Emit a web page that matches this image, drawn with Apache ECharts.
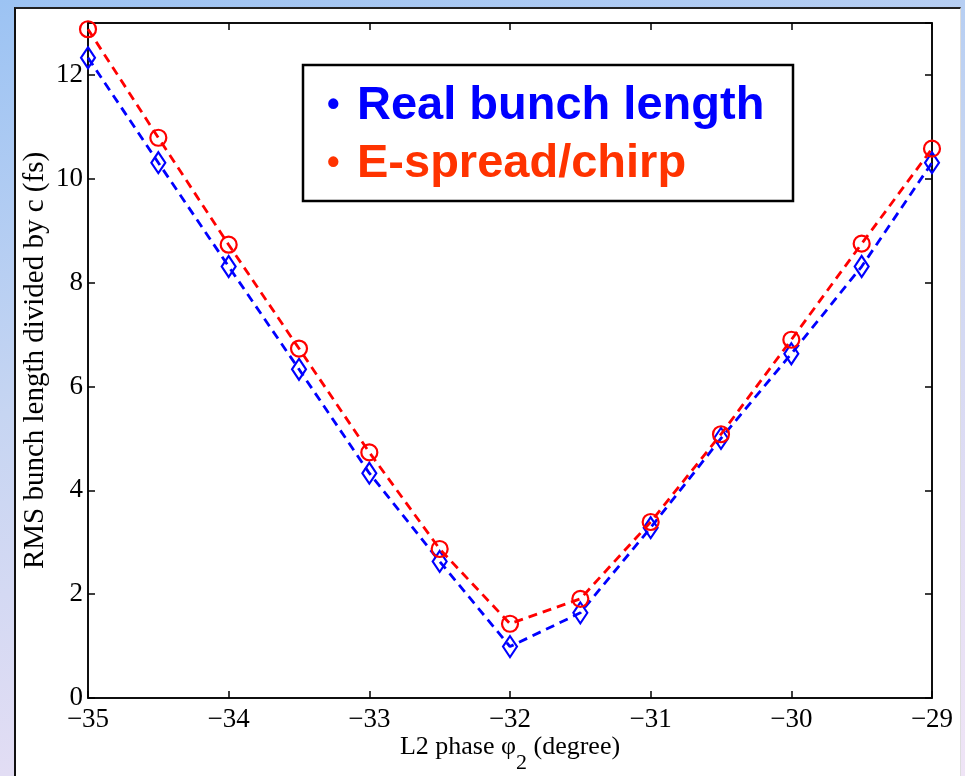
<!DOCTYPE html>
<html>
<head>
<meta charset="utf-8">
<script src="https://cdn.jsdelivr.net/npm/echarts@6/dist/echarts.min.js"></script>
<style>
    html, body {
        margin: 0;
        padding: 0;
        width: 965px;
        height: 776px;
        overflow: hidden;
    }
    body {
        background: linear-gradient(165deg, #9cc3f3 0%, #c6d5f2 40%, #e2ddf4 75%, #efe4f6 100%);
    }
    #panel {
        position: absolute;
        left: 14px;
        top: 7px;
        width: 944px;
        height: 780px;
        background: #fff;
        border-left: 2px solid #111;
        border-top: 2px solid #222;
        border-right: 1px solid #ddd;
    }
    #mainChart {
        position: absolute;
        left: 0;
        top: 0;
        width: 965px;
        height: 776px;
    }
</style>
</head>
<body>
<div id="panel"></div>
<div id="mainChart"></div>
<script>
    // L2 phase (degree)
    var phase = [-35, -34.5, -34, -33.5, -33, -32.5, -32, -31.5, -31, -30.5, -30, -29.5, -29];
    // real rms bunch length / c (fs)
    var realLength = [12.33, 10.31, 8.31, 6.33, 4.33, 2.63, 0.99, 1.64, 3.28, 5.0, 6.63, 8.31, 10.31];
    // energy spread / chirp (fs)
    var spreadChirp = [12.88, 10.79, 8.73, 6.73, 4.73, 2.87, 1.43, 1.91, 3.39, 5.08, 6.9, 8.75, 10.58];
    var xTicks = { min: -35, max: -29, step: 1 };
    var yTicks = { min: 0, max: 13, step: 2 };

    function pairs(xs, ys) {
        return xs.map(function (x, i) { return [x, ys[i]]; });
    }
    function minus(v) {
        return String(v).replace('-', '\u2212');
    }

    var chart = echarts.init(document.getElementById('mainChart'));
    var serif = 'Liberation Serif, Times New Roman, serif';
    var sans = 'Liberation Sans, Arial, sans-serif';

    var axisLine = { show: true, onZero: false, lineStyle: { color: '#000', width: 1.5 } };
    var axisTick = { show: true, inside: true, length: 7, lineStyle: { color: '#000', width: 1.5 } };

    var option = {
        animation: false,
        backgroundColor: 'transparent',
        grid: {
            left: 88, right: 33, top: 23, bottom: 78,
            outerBoundsMode: 'none',
            containLabel: false,
            show: true, borderColor: '#000', borderWidth: 1.5
        },
        xAxis: [{
            type: 'value',
            min: xTicks.min, max: xTicks.max, interval: xTicks.step,
            position: 'bottom',
            axisLine: axisLine,
            axisTick: axisTick,
            splitLine: { show: false },
            axisLabel: {
                color: '#000', fontFamily: serif, fontSize: 27, margin: 8,
                formatter: minus
            },
            name: '{t|L2 phase \u03c6}{s|2}{t| (degree)}',
            nameLocation: 'middle',
            nameGap: 22,
            nameMoveOverlap: false,
            nameTextStyle: {
                rich: {
                    t: { fontFamily: serif, fontSize: 26, color: '#000' },
                    s: { fontFamily: serif, fontSize: 22, color: '#000', padding: [32, 0, 0, 0] }
                }
            }
        }, {
            type: 'value',
            min: xTicks.min, max: xTicks.max, interval: xTicks.step,
            position: 'top',
            axisLine: axisLine,
            axisTick: axisTick,
            axisLabel: { show: false },
            splitLine: { show: false }
        }],
        yAxis: [{
            type: 'value',
            min: yTicks.min, max: yTicks.max, interval: yTicks.step,
            position: 'left',
            axisLine: axisLine,
            axisTick: axisTick,
            splitLine: { show: false },
            axisLabel: {
                color: '#000', fontFamily: serif, fontSize: 27, margin: 5,
                showMaxLabel: false,
                formatter: function (v) { return v % 2 === 0 ? String(v) : ''; }
            },
            name: 'RMS bunch length divided by c (fs)',
            nameLocation: 'middle',
            nameGap: 38,
            nameMoveOverlap: false,
            nameTextStyle: { fontFamily: serif, fontSize: 29, color: '#000' }
        }, {
            type: 'value',
            min: yTicks.min, max: yTicks.max, interval: yTicks.step,
            position: 'right',
            axisLine: axisLine,
            axisTick: axisTick,
            axisLabel: { show: false },
            splitLine: { show: false }
        }],
        graphic: [{
            type: 'rect',
            shape: { x: 303, y: 65, width: 490, height: 136 },
            style: { fill: '#fff', stroke: '#000', lineWidth: 2.5 },
            z: 100
        }, {
            type: 'text', z: 101,
            style: { x: 327, y: 106, text: '\u2022', font: 'bold 36px ' + sans, fill: '#0000ff', verticalAlign: 'middle' }
        }, {
            type: 'text', z: 101,
            style: { x: 357, y: 106, text: 'Real bunch length', font: 'bold 47px ' + sans, fill: '#0000ff', verticalAlign: 'middle' }
        }, {
            type: 'text', z: 101,
            style: { x: 327, y: 164, text: '\u2022', font: 'bold 36px ' + sans, fill: '#ff3300', verticalAlign: 'middle' }
        }, {
            type: 'text', z: 101,
            style: { x: 357, y: 164, text: 'E-spread/chirp', font: 'bold 47px ' + sans, fill: '#ff3300', verticalAlign: 'middle' }
        }],
        series: [{
            name: 'Real bunch length',
            type: 'line',
            data: pairs(phase, realLength),
            symbol: 'diamond',
            symbolSize: [14, 21],
            lineStyle: { color: '#0000ff', width: 2.8, type: [9, 6] },
            itemStyle: { color: 'rgba(255,255,255,0)', borderColor: '#0000ff', borderWidth: 2.2 },
            z: 3
        }, {
            name: 'E-spread/chirp',
            type: 'line',
            data: pairs(phase, spreadChirp),
            symbol: 'circle',
            symbolSize: 16,
            lineStyle: { color: '#ff0000', width: 2.8, type: [9, 6] },
            itemStyle: { color: 'rgba(255,255,255,0)', borderColor: '#ff0000', borderWidth: 2.2 },
            z: 4
        }]
    };
    chart.setOption(option);
</script>
</body>
</html>
